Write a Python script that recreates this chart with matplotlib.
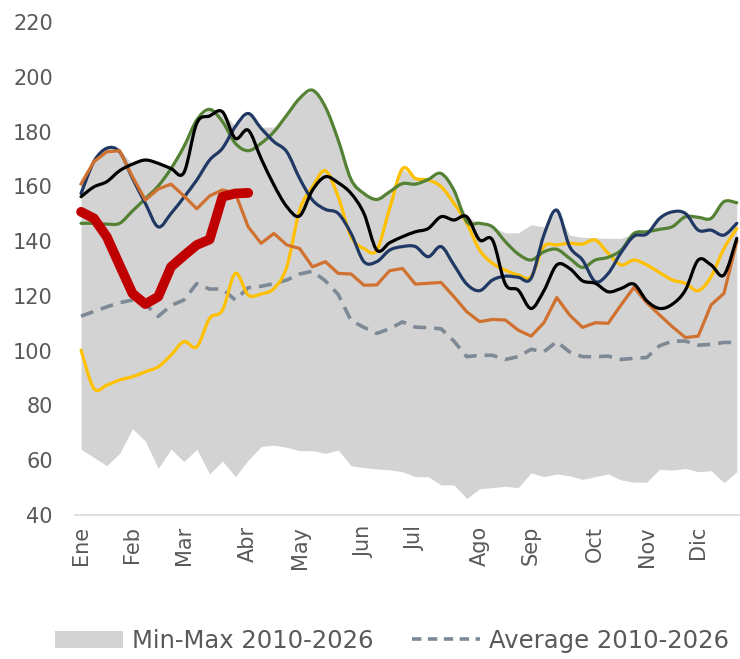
import matplotlib
matplotlib.use("Agg")
import matplotlib.pyplot as plt
from matplotlib.path import Path
from matplotlib.patches import PathPatch, Patch
from matplotlib.lines import Line2D

# weekly values, week 0 = first week of January
weeks = list(range(52))
month_weeks = [0, 4, 8, 13, 17, 22, 26, 31, 35, 40, 44, 48]
month_labels = ["Ene", "Feb", "Mar", "Abr", "May", "Jun", "Jul", "Ago", "Sep", "Oct", "Nov", "Dic"]

range_min = [64, 61, 58, 62.5, 71.5, 67, 57, 64, 59.5, 64, 55, 59.7, 54, 60, 65, 65.5,
             64.7, 63.5, 63.5, 62.5, 63.7, 58, 57.3, 56.8, 56.5, 55.8, 54, 54, 51, 51, 46, 49.6,
             50, 50.5, 50, 55.4, 54, 55, 54.3, 53, 54, 55, 52.8, 52, 52, 56.7, 56.4, 57,
             55.8, 56.2, 51.8, 55.8]
range_max = [161, 171, 174, 173.5, 168.1, 169.6, 168.4, 166.5, 174.5, 184.2, 188.1, 187.2,
             181.8, 186.6, 181.6, 181.6, 186, 192.1, 195.1, 189, 176.9, 162.9, 157.4, 155.2,
             158, 166.5, 162.9, 162.5, 164.7, 158.6, 148.9, 146.5, 145.2, 143, 143, 146, 145.2,
             151.3, 142.2, 141.4, 141.2, 141, 141, 142.8, 143.4, 148.3, 150.7, 150.1, 148.7,
             148.3, 154.4, 154]
average = [112.6, 114.3, 116, 117.5, 118.5, 117, 112.5, 116.5, 118.5, 124.5, 122.5, 122.5,
           118.5, 123, 123.5, 124.5, 125.8, 128, 129, 125.5, 120.5, 111, 108.5, 106.3, 108,
           110.5, 108.6, 108.4, 108, 103.5, 97.8, 98.3, 98.3, 96.8, 97.8, 100.5, 99.6, 103.3,
           99.5, 97.8, 97.8, 98, 96.8, 97.2, 97.5, 101.8, 103.5, 103.5, 102, 102.3, 103, 103]

y_yellow = [100.2, 86.2, 87.4, 89.3, 90.5, 92.3, 94.1, 98.4, 103.3, 101.4, 111.8, 114.8, 128.2,
            120.3, 120.7, 122.7, 130.6, 151.3, 159.8, 165.7, 156.2, 141.6, 137.3, 136.7, 151.9,
            166.5, 162.9, 162.3, 159.9, 153.8, 146.5, 136.7, 131.9, 129.4, 127.6, 127, 138,
            138.6, 139.2, 138.9, 140.4, 135.5, 131.3, 133.1, 131.3, 128.5, 125.8, 124.6, 121.9,
            127, 137.3, 144.6]
y_green = [146.5, 146.5, 146.2, 146.5, 151, 155.5, 160.1, 166.5, 174.5, 184.2, 188.1, 183.6,
           175.7, 173, 175.7, 179.9, 186, 192.1, 195.1, 189, 176.9, 162.5, 157.4, 155.2, 158,
           161, 160.8, 162.5, 164.7, 158.6, 147.1, 146.5, 145.2, 139.8, 135.3, 133.1, 136.1,
           137, 133.7, 130.4, 133.1, 134.1, 136.7, 142.8, 143.4, 144.3, 145.3, 148.9, 148.7,
           148.3, 154.4, 154]
y_navy = [157.4, 169, 173.9, 172.6, 162.9, 153.8, 145.2, 150.1, 156, 162.3, 169.6, 173.9,
          181.8, 186.6, 181.2, 176.3, 172.6, 162.9, 155, 151.6, 150.1, 142.8, 132.5, 132.5,
          136.7, 138, 138, 134.3, 138, 131.3, 124.3, 121.9, 125.8, 127.2, 126.8, 126.4, 142.2,
          151.3, 138, 133.1, 125.2, 128.2, 135.8, 141.8, 142.6, 148.3, 150.7, 150.1, 144, 144,
          142.2, 146.5]
y_orange = [160.9, 169, 172.6, 173, 163.5, 155, 159, 160.8, 156.5, 151.8, 156.5, 158.7, 157.5,
            145.2, 139.2, 142.8, 138.6, 137.3, 130.6, 132.5, 128.2, 128, 123.9, 124, 129.2,
            130, 124.3, 124.6, 124.9, 119.7, 114.2, 110.6, 111.4, 111.2, 107.5, 105.3, 110.2,
            119.4, 113, 108.5, 110.2, 110, 116.7, 123.1, 117.5, 113, 108.7, 104.8, 105.3,
            116.7, 120.9, 139.8]
y_black = [156.2, 159.8, 161.7, 165.7, 168.1, 169.6, 168.4, 166.5, 165, 183, 185.7, 187.2,
           177.5, 180.5, 170.2, 160.5, 152.6, 149.2, 158.6, 163.5, 161.3, 157.4, 150.1, 136.7,
           139.4, 141.6, 143.4, 144.6, 148.9, 147.7, 148.9, 140.4, 140.4, 124.3, 122.1, 115.4,
           121.9, 131.3, 130, 125.5, 124.6, 121.5, 122.7, 124.3, 118.2, 115.4, 117, 122.1,
           133.1, 131.3, 127.6, 141]
y_2026 = [150.7, 148.3, 141.6, 131.2, 120.9, 117, 119.7, 130.6, 134.7, 138.6, 140.6, 156.2,
          157.4, 157.6]

GREY_TXT = "#595959"


def smooth_path(x, y):
    # Excel-style smoothed line: cubic Bezier through every point
    pts = list(zip(x, y))
    n = len(pts)
    verts = [pts[0]]
    codes = [Path.MOVETO]
    for i in range(n - 1):
        p0 = pts[i - 1] if i > 0 else pts[i]
        p1 = pts[i]
        p2 = pts[i + 1]
        p3 = pts[i + 2] if i + 2 < n else pts[i + 1]
        c1 = (p1[0] + (p2[0] - p0[0]) / 6, p1[1] + (p2[1] - p0[1]) / 6)
        c2 = (p2[0] - (p3[0] - p1[0]) / 6, p2[1] - (p3[1] - p1[1]) / 6)
        verts += [c1, c2, p2]
        codes += [Path.CURVE4] * 3
    return Path(verts, codes)


def smooth_line(ax, x, y, color, lw, z):
    patch = PathPatch(smooth_path(x, y), fill=False, edgecolor=color, linewidth=lw,
                      capstyle="round", joinstyle="round", zorder=z)
    ax.add_patch(patch)


fig = plt.figure(figsize=(7.4, 6.59), dpi=100)
ax = fig.add_axes([75 / 740, 144 / 659, 665 / 740, 493 / 659])

ax.fill_between(weeks, range_min, range_max, color="#D3D3D3", linewidth=0, zorder=1)
ax.plot(weeks, average, color="#7D8A96", linewidth=2.6, dashes=(3.6, 2.2), zorder=2)

smooth_line(ax, weeks, y_yellow, "#FFC000", 2.3, 3)
smooth_line(ax, weeks, y_green, "#548235", 2.3, 4)
smooth_line(ax, weeks, y_navy, "#1F3864", 2.3, 5)
ax.plot(weeks, y_orange, color="#D0712F", linewidth=2.3, zorder=6, solid_joinstyle="round")
smooth_line(ax, weeks, y_black, "#000000", 2.3, 7)
ax.plot(weeks[:len(y_2026)], y_2026, color="#C00000", linewidth=7, zorder=8,
        solid_capstyle="round", solid_joinstyle="round")

ax.set_xlim(-0.47, 51.25)
ax.set_ylim(40, 220)
ax.set_yticks(range(40, 221, 20))
ax.set_xticks(month_weeks)
ax.set_xticklabels(month_labels, rotation=90)

for s in ["top", "right", "left"]:
    ax.spines[s].set_visible(False)
ax.spines["bottom"].set_color("#D9D9D9")
ax.spines["bottom"].set_linewidth(1.2)
ax.tick_params(axis="y", length=0, pad=16, labelsize=15, labelcolor=GREY_TXT)
ax.tick_params(axis="x", length=0, pad=8, labelsize=15, labelcolor=GREY_TXT)

handles = [Patch(facecolor="#D3D3D3", edgecolor="none"),
           Line2D([], [], color="#7D8A96", linewidth=2.6, dashes=(2.6, 1.8))]
fig.legend(handles, ["Min-Max 2010-2026", "Average 2010-2026"], loc="center",
           bbox_to_anchor=(0.53, 18 / 659), ncol=2, frameon=False, fontsize=17.5,
           labelcolor=GREY_TXT, handlelength=2.8, handletextpad=0.35, columnspacing=1.6,
           handleheight=0.75)

fig.savefig("out.png", dpi=100)
